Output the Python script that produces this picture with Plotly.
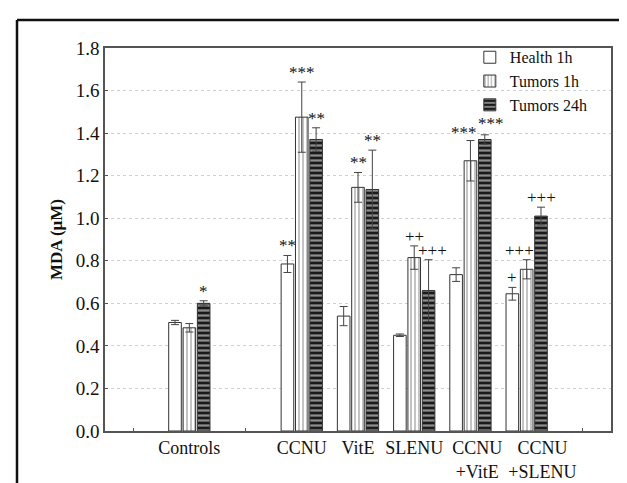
import plotly.graph_objects as go

# ---- data ----
groups = ["Controls", "CCNU", "VitE", "SLENU", "CCNU<br>+VitE", "CCNU<br>+SLENU"]
group_pos = [2, 4, 5, 6, 7, 8]
label_pos = [2, 4, 5, 6, 7.12, 8.28]
series_names = ["Health 1h", "Tumors 1h", "Tumors 24h"]

health_1h = [0.51, 0.785, 0.54, 0.45, 0.735, 0.645]
health_1h_err = [0.01, 0.04, 0.045, 0.006, 0.032, 0.03]
tumors_1h = [0.485, 1.475, 1.145, 0.815, 1.27, 0.76]
tumors_1h_err = [0.02, 0.165, 0.07, 0.055, 0.095, 0.045]
tumors_24h = [0.60, 1.37, 1.135, 0.66, 1.37, 1.01]
tumors_24h_err = [0.012, 0.055, 0.185, 0.145, 0.022, 0.042]

# significance markers: (group index, series index, text, x nudge px, y nudge px)
ann_group = [0, 1, 1, 1, 2, 2, 3, 3, 4, 4, 5, 5, 5]
ann_series = [2, 0, 1, 2, 1, 2, 1, 2, 1, 2, 0, 1, 2]
ann_text = ["*", "**", "***", "**", "**", "**", "++", "+++", "***", "***", "+", "+++", "+++"]
ann_xshift = [0, 0, 0, 0, 0, 0, 0, 4, -6, 6, 0, -7, 0]
ann_yshift = [-1, -1, -1, -1, -1, -1, -1, -1, -2, 1, -1, -1, -1]

y_ticks = [0.0, 0.2, 0.4, 0.6, 0.8, 1.0, 1.2, 1.4, 1.6, 1.8]

values = [health_1h, tumors_1h, tumors_24h]
errors = [health_1h_err, tumors_1h_err, tumors_24h_err]

patterns = [
    dict(shape=""),
    dict(shape="|", fgcolor="#555555", bgcolor="white", size=4, solidity=0.35),
    dict(shape="-", fgcolor="white", bgcolor="#1a1a1a", size=5, solidity=0.45),
]

fig = go.Figure()
for i, name in enumerate(series_names):
    fig.add_trace(go.Bar(
        x=group_pos, y=values[i], name=name,
        marker=dict(color="white", line=dict(color="#333333", width=1),
                    pattern=patterns[i]),
        error_y=dict(type="data", array=errors[i], visible=True,
                     color="#444444", thickness=1, width=4),
    ))

serif = "Liberation Serif, Times New Roman, serif"
slot = 0.765 / 3
offsets = [-slot, 0, slot]
for g, s, t, dx, dy in zip(ann_group, ann_series, ann_text, ann_xshift, ann_yshift):
    top = values[s][g] + errors[s][g]
    fig.add_annotation(x=group_pos[g] + offsets[s], y=top, text=t,
                       showarrow=False, yanchor="bottom", xanchor="center",
                       xshift=dx, yshift=dy, borderpad=0,
                       font=dict(family=serif, size=17, color="#111111"))

# outer frame lines (decoration)
fig.add_shape(type="line", xref="paper", yref="paper",
              x0=(9 - 97) / 506, x1=1.2, y0=(423 - 12) / 383, y1=(423 - 12) / 383,
              line=dict(color="#111111", width=2.5))
fig.add_shape(type="line", xref="paper", yref="paper",
              x0=(9 - 97) / 506, x1=(9 - 97) / 506, y0=-0.3, y1=(423 - 12) / 383,
              line=dict(color="#111111", width=2.5))

fig.update_layout(
    width=627, height=483,
    margin=dict(l=97, r=24, t=40, b=60, autoexpand=False),
    paper_bgcolor="white", plot_bgcolor="white",
    barmode="group", bargap=0.235, bargroupgap=0.12,
    font=dict(family=serif, color="#111111"),
    showlegend=True,
    legend=dict(x=0.721, y=1.02, xanchor="left", yanchor="top",
                bgcolor="rgba(0,0,0,0)", borderwidth=0,
                font=dict(family=serif, size=16, color="#111111"),
                itemwidth=30, tracegroupgap=0),
)
fig.update_xaxes(
    range=[0.5, 9.5], tickmode="array", tickvals=label_pos, ticktext=groups,
    tickangle=0, automargin=False,
    ticks="", showgrid=False, zeroline=False,
    showline=True, linecolor="#555555", linewidth=1.5, mirror=True,
    tickfont=dict(family=serif, size=18, color="#111111"),
    minor=dict(tickvals=[1, 3, 9], ticks="inside", ticklen=3, tickcolor="#555555"),
)
fig.update_yaxes(
    range=[0, 1.8], tickmode="array", tickvals=y_ticks,
    ticktext=[f"{v:.1f}" for v in y_ticks],
    ticks="inside", ticklen=3, tickcolor="#555555",
    showgrid=True, gridcolor="#d0d0d0", griddash="dot", gridwidth=1,
    zeroline=False, automargin=False,
    showline=True, linecolor="#555555", linewidth=1.5, mirror=True,
    tickfont=dict(family=serif, size=19, color="#111111"),
    title=dict(text="<b>MDA (μM)</b>", font=dict(family=serif, size=17, color="#111111"),
               standoff=9),
)

fig.write_html("out.html")
